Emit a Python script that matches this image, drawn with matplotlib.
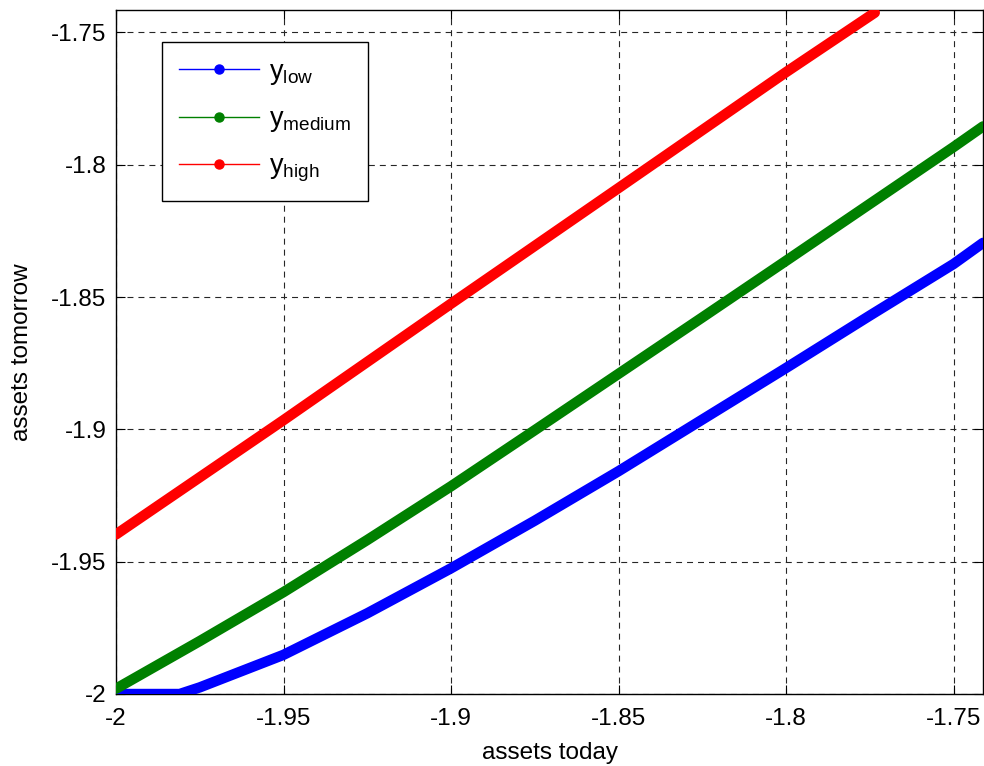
import numpy as np
import matplotlib
matplotlib.use("Agg")
import matplotlib.pyplot as plt
from matplotlib.lines import Line2D

# values (assets today -> assets tomorrow)
x_low = [-2.0, -1.981, -1.975, -1.95, -1.925, -1.9, -1.875, -1.85, -1.825, -1.8, -1.775, -1.75, -1.7412]
y_low = [-2.0, -2.0, -1.9975, -1.9852, -1.9695, -1.9525, -1.9345, -1.9158, -1.8963, -1.8768, -1.857, -1.8375, -1.8295]

x_med = [-2.0, -1.975, -1.95, -1.925, -1.9, -1.875, -1.85, -1.825, -1.8, -1.775, -1.75, -1.7412]
y_med = [-1.998, -1.980, -1.9615, -1.9418, -1.9215, -1.9003, -1.879, -1.8577, -1.8363, -1.8148, -1.7933, -1.7855]

x_high = [-2.0, -1.95, -1.9, -1.85, -1.8, -1.7735]
y_high = [-1.9397, -1.8965, -1.8525, -1.8088, -1.765, -1.7425]

labels = [r"$\mathregular{y_{low}}$", r"$\mathregular{y_{medium}}$", r"$\mathregular{y_{high}}$"]
colors = [(0, 0, 1), (0, 0.5, 0), (1, 0, 0)]

ticks = [-2, -1.95, -1.9, -1.85, -1.8, -1.75]
tick_labels = ["-2", "-1.95", "-1.9", "-1.85", "-1.8", "-1.75"]

plt.rcParams['font.family'] = ['Liberation Sans', 'DejaVu Sans']
plt.rcParams['mathtext.default'] = 'regular'
plt.rcParams['lines.scale_dashes'] = False

fig = plt.figure(figsize=(9.84, 7.66), dpi=100)
ax = fig.add_axes([116 / 984, 1 - 694 / 766, (983 - 116) / 984, (694 - 10) / 766])

for xs, ys, c in zip([x_low, x_med, x_high], [y_low, y_med, y_high], colors):
    ax.plot(xs, ys, color=c, lw=7.5, solid_capstyle='round', solid_joinstyle='round', zorder=3)

ax.set_xlim(-2, -1.7412)
ax.set_ylim(-2, -1.7415)
ax.set_xticks(ticks)
ax.set_xticklabels(tick_labels)
ax.set_yticks(ticks)
ax.set_yticklabels(tick_labels)

ax.grid(True, color='0.15', lw=0.8, linestyle=(0, (4.3, 3.6)))
ax.tick_params(direction='in', length=6.5, width=0.8, top=True, right=True,
               labelsize=17.5)
ax.tick_params(axis='x', pad=10)
ax.tick_params(axis='y', pad=7)
for s in ax.spines.values():
    s.set_linewidth(1.0)
    s.set_color('k')

ax.set_xlabel("assets today", fontsize=17.5, labelpad=9)
ax.set_ylabel("assets tomorrow", fontsize=17.5, labelpad=13)

handles = [Line2D([], [], color=c, lw=1, marker='o', markersize=6.5) for c in colors]
leg = ax.legend(handles, labels, loc='upper left',
                bbox_to_anchor=(162 / 984, 1 - 42 / 766), bbox_transform=fig.transFigure,
                borderaxespad=0, fontsize=19.5, handlelength=2.95, handletextpad=0.38,
                labelspacing=0.72, borderpad=0.62, fancybox=False, framealpha=1,
                edgecolor='k')
leg.get_frame().set_linewidth(1.0)

fig.savefig("out.png", dpi=100)
